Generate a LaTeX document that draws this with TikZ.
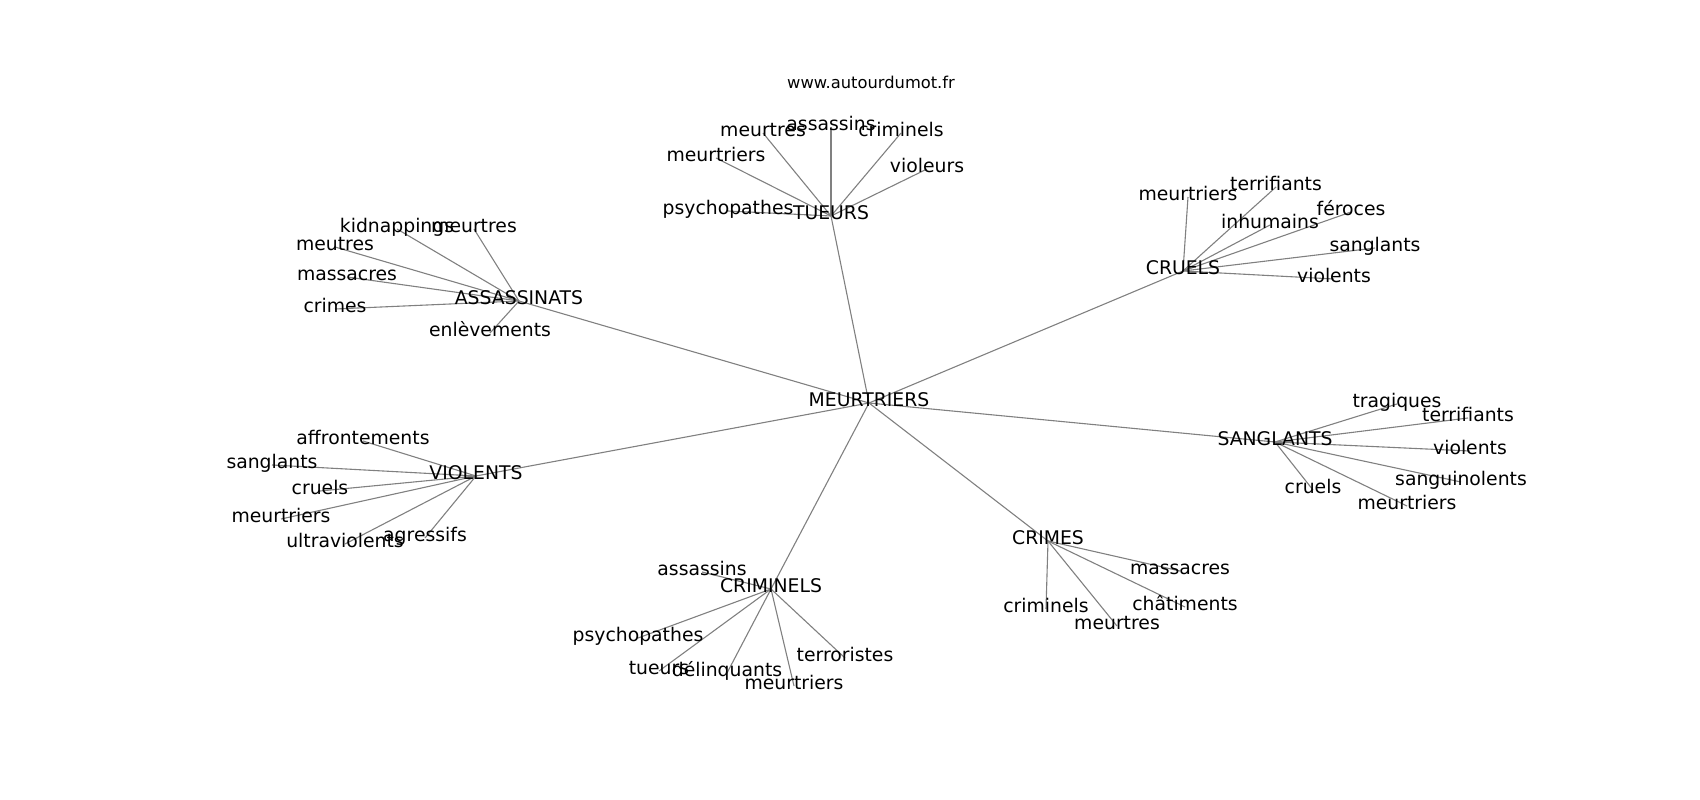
\documentclass[tikz,border=0pt]{standalone}
\usepackage{fontspec}
\setmainfont{DejaVu Sans}
\usetikzlibrary{backgrounds}

\begin{document}
\begin{tikzpicture}[x=1pt,y=-1pt]
	\tikzset{word/.style={inner sep=0pt,anchor=center,text height=13.7pt,text depth=6pt,font=\fontsize{18.8}{20}\selectfont}}
	\tikzset{link/.style={draw=black!50,line width=1.1pt}}
%	\tikzset{link/.style={draw=red}}
	\useasboundingbox (0,0) rectangle (1700,800);

\node[word,font=\fontsize{16.3}{18}\selectfont] (site) at (871,85) {www.autourdumot.fr};
\node[word] (root) at (869,403) {MEURTRIERS};

\foreach \hub/\x/\y/\txt in {
	tueurs/831/216/TUEURS,
	cruels/1183/271/CRUELS,
	assassinats/519/301/ASSASSINATS,
	violents/476/476/VIOLENTS,
	sanglants/1275/442/SANGLANTS,
	criminels/771/589/CRIMINELS,
	crimes/1048/541/CRIMES}
{
	\node[word] (\hub) at (\x,\y) {\txt};
	\begin{scope}[on background layer]
		\draw[link] (root.center) -- (\hub.center);
	\end{scope}
}

\foreach \hub/\n/\x/\y/\txt in {
	tueurs/1/831/127/assassins,
	tueurs/2/763/133/meurtres,
	tueurs/3/901/133/criminels,
	tueurs/4/716/158/meurtriers,
	tueurs/5/927/169/violeurs,
	tueurs/6/728/211/psychopathes,
	cruels/1/1188/197/meurtriers,
	cruels/2/1276/187/terrifiants,
	cruels/3/1270/225/inhumains,
	cruels/4/1351/212/féroces,
	cruels/5/1375/248/sanglants,
	cruels/6/1334/279/violents,
	assassinats/1/397/229/kidnappings,
	assassinats/2/474/229/meurtres,
	assassinats/3/335/247/meutres,
	assassinats/4/347/277/massacres,
	assassinats/5/335/309/crimes,
	assassinats/6/490/333/enlèvements,
	violents/1/363/441/affrontements,
	violents/2/272/465/sanglants,
	violents/3/320/491/cruels,
	violents/4/281/519/meurtriers,
	violents/5/345/544/ultraviolents,
	violents/6/425/538/agressifs,
	sanglants/1/1397/404/tragiques,
	sanglants/2/1468/418/terrifiants,
	sanglants/3/1470/451/violents,
	sanglants/4/1461/482/sanguinolents,
	sanglants/5/1313/490/cruels,
	sanglants/6/1407/506/meurtriers,
	criminels/1/702/572/assassins,
	criminels/2/638/638/psychopathes,
	criminels/3/659/671/tueurs,
	criminels/4/727/673/délinquants,
	criminels/5/794/686/meurtriers,
	criminels/6/845/658/terroristes,
	crimes/1/1180/571/massacres,
	crimes/2/1185/607/châtiments,
	crimes/3/1046/609/criminels,
	crimes/4/1117/626/meurtres}
{
	\node[word] (\hub-\n) at (\x,\y) {\txt};
	\begin{scope}[on background layer]
		\draw[link] (\hub.center) -- (\hub-\n.center);
	\end{scope}
}

\end{tikzpicture}
\end{document}
